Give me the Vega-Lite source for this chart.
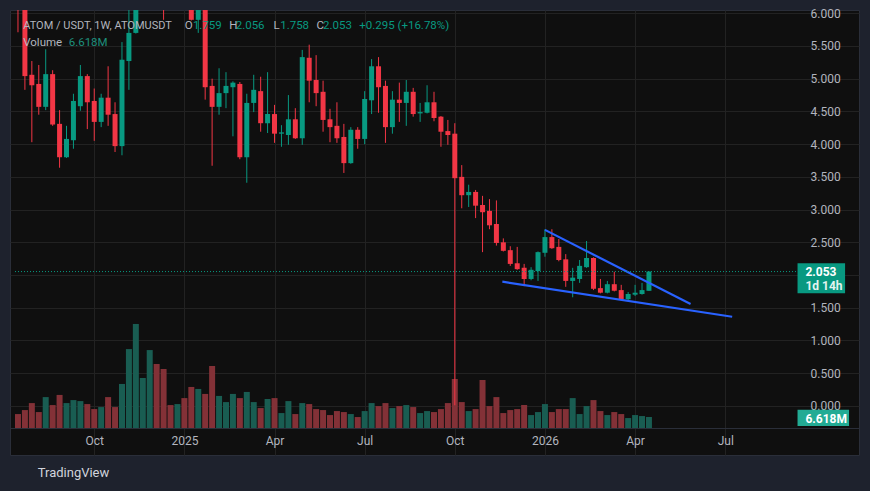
{
  "$schema": "https://vega.github.io/schema/vega-lite/v6.json",
  "width": 849,
  "height": 445,
  "autosize": "none",
  "padding": {"left": 10, "top": 10, "right": 11, "bottom": 36},
  "background": "#1e222d",
  "datasets": {
    "candles": [
      {"date": "2024-07-22", "open": 6.90, "high": 7.20, "low": 5.71, "close": 6.40, "volume": 8.4},
      {"date": "2024-07-29", "open": 6.40, "high": 6.60, "low": 4.83, "close": 5.04, "volume": 10.8},
      {"date": "2024-08-05", "open": 5.06, "high": 5.27, "low": 4.03, "close": 4.90, "volume": 15.0},
      {"date": "2024-08-12", "open": 4.92, "high": 5.21, "low": 4.45, "close": 4.57, "volume": 9.6},
      {"date": "2024-08-19", "open": 4.57, "high": 5.45, "low": 4.52, "close": 5.07, "volume": 18.6},
      {"date": "2024-08-26", "open": 5.07, "high": 5.13, "low": 4.28, "close": 4.30, "volume": 13.8},
      {"date": "2024-09-02", "open": 4.31, "high": 4.52, "low": 3.64, "close": 3.80, "volume": 19.9},
      {"date": "2024-09-09", "open": 3.80, "high": 4.28, "low": 3.79, "close": 4.08, "volume": 15.0},
      {"date": "2024-09-16", "open": 4.06, "high": 4.77, "low": 3.93, "close": 4.66, "volume": 16.8},
      {"date": "2024-09-23", "open": 4.58, "high": 5.21, "low": 4.51, "close": 5.04, "volume": 16.2},
      {"date": "2024-09-30", "open": 5.04, "high": 5.07, "low": 4.23, "close": 4.64, "volume": 14.4},
      {"date": "2024-10-07", "open": 4.66, "high": 4.85, "low": 4.05, "close": 4.34, "volume": 11.4},
      {"date": "2024-10-14", "open": 4.34, "high": 4.77, "low": 4.26, "close": 4.71, "volume": 12.6},
      {"date": "2024-10-21", "open": 4.71, "high": 5.19, "low": 4.28, "close": 4.45, "volume": 18.6},
      {"date": "2024-10-28", "open": 4.46, "high": 4.64, "low": 3.88, "close": 3.97, "volume": 12.6},
      {"date": "2024-11-04", "open": 3.97, "high": 5.56, "low": 3.83, "close": 5.29, "volume": 26.5},
      {"date": "2024-11-11", "open": 5.27, "high": 6.20, "low": 4.83, "close": 5.70, "volume": 47.5},
      {"date": "2024-11-18", "open": 5.70, "high": 7.00, "low": 5.69, "close": 6.60, "volume": 62.6},
      {"date": "2024-11-25", "open": 6.60, "high": 7.80, "low": 6.30, "close": 7.40, "volume": 30.1},
      {"date": "2024-12-02", "open": 7.40, "high": 10.10, "low": 7.20, "close": 8.60, "volume": 46.9},
      {"date": "2024-12-09", "open": 8.60, "high": 9.00, "low": 6.90, "close": 7.80, "volume": 38.5},
      {"date": "2024-12-16", "open": 7.80, "high": 8.00, "low": 5.90, "close": 6.60, "volume": 35.5},
      {"date": "2024-12-23", "open": 6.60, "high": 7.10, "low": 6.20, "close": 6.50, "volume": 13.8},
      {"date": "2024-12-30", "open": 6.50, "high": 7.40, "low": 6.30, "close": 6.90, "volume": 14.4},
      {"date": "2025-01-06", "open": 6.90, "high": 7.10, "low": 6.10, "close": 6.40, "volume": 18.0},
      {"date": "2025-01-13", "open": 6.40, "high": 6.70, "low": 5.89, "close": 5.90, "volume": 24.7},
      {"date": "2025-01-20", "open": 5.90, "high": 6.50, "low": 5.70, "close": 6.30, "volume": 23.5},
      {"date": "2025-01-27", "open": 6.30, "high": 6.40, "low": 4.68, "close": 4.87, "volume": 20.5},
      {"date": "2025-02-03", "open": 4.89, "high": 5.00, "low": 3.67, "close": 4.57, "volume": 37.3},
      {"date": "2025-02-10", "open": 4.57, "high": 5.16, "low": 4.45, "close": 4.78, "volume": 19.3},
      {"date": "2025-02-17", "open": 4.78, "high": 5.10, "low": 4.55, "close": 4.89, "volume": 15.6},
      {"date": "2025-02-24", "open": 4.87, "high": 4.96, "low": 4.12, "close": 4.94, "volume": 20.5},
      {"date": "2025-03-03", "open": 4.92, "high": 4.95, "low": 3.77, "close": 3.80, "volume": 18.0},
      {"date": "2025-03-10", "open": 3.80, "high": 4.77, "low": 3.41, "close": 4.63, "volume": 21.7},
      {"date": "2025-03-17", "open": 4.63, "high": 5.06, "low": 4.49, "close": 4.83, "volume": 15.6},
      {"date": "2025-03-24", "open": 4.81, "high": 5.03, "low": 4.19, "close": 4.32, "volume": 12.0},
      {"date": "2025-03-31", "open": 4.32, "high": 5.10, "low": 4.17, "close": 4.46, "volume": 17.4},
      {"date": "2025-04-07", "open": 4.46, "high": 4.60, "low": 4.02, "close": 4.16, "volume": 18.0},
      {"date": "2025-04-14", "open": 4.16, "high": 4.29, "low": 3.96, "close": 4.18, "volume": 9.0},
      {"date": "2025-04-21", "open": 4.14, "high": 4.75, "low": 3.99, "close": 4.38, "volume": 16.2},
      {"date": "2025-04-28", "open": 4.38, "high": 4.55, "low": 4.08, "close": 4.09, "volume": 8.4},
      {"date": "2025-05-05", "open": 4.09, "high": 5.44, "low": 3.99, "close": 5.33, "volume": 15.0},
      {"date": "2025-05-12", "open": 5.32, "high": 5.52, "low": 4.64, "close": 4.97, "volume": 14.4},
      {"date": "2025-05-19", "open": 4.98, "high": 5.36, "low": 4.58, "close": 4.78, "volume": 11.4},
      {"date": "2025-05-26", "open": 4.80, "high": 4.97, "low": 4.19, "close": 4.37, "volume": 10.8},
      {"date": "2025-06-02", "open": 4.38, "high": 4.54, "low": 4.03, "close": 4.26, "volume": 7.8},
      {"date": "2025-06-09", "open": 4.28, "high": 4.64, "low": 4.02, "close": 4.09, "volume": 10.2},
      {"date": "2025-06-16", "open": 4.11, "high": 4.31, "low": 3.56, "close": 3.71, "volume": 9.6},
      {"date": "2025-06-23", "open": 3.71, "high": 4.26, "low": 3.70, "close": 4.22, "volume": 8.4},
      {"date": "2025-06-30", "open": 4.22, "high": 4.26, "low": 3.93, "close": 4.08, "volume": 6.6},
      {"date": "2025-07-07", "open": 4.08, "high": 4.81, "low": 4.00, "close": 4.69, "volume": 10.2},
      {"date": "2025-07-14", "open": 4.67, "high": 5.30, "low": 4.46, "close": 5.19, "volume": 15.0},
      {"date": "2025-07-21", "open": 5.19, "high": 5.33, "low": 4.48, "close": 4.87, "volume": 13.2},
      {"date": "2025-07-28", "open": 4.89, "high": 4.97, "low": 4.02, "close": 4.26, "volume": 15.0},
      {"date": "2025-08-04", "open": 4.26, "high": 4.81, "low": 4.16, "close": 4.68, "volume": 12.0},
      {"date": "2025-08-11", "open": 4.68, "high": 4.94, "low": 4.34, "close": 4.63, "volume": 13.2},
      {"date": "2025-08-18", "open": 4.63, "high": 4.98, "low": 4.28, "close": 4.80, "volume": 13.8},
      {"date": "2025-08-25", "open": 4.80, "high": 4.86, "low": 4.42, "close": 4.46, "volume": 12.6},
      {"date": "2025-09-01", "open": 4.47, "high": 4.63, "low": 4.34, "close": 4.49, "volume": 9.0},
      {"date": "2025-09-08", "open": 4.48, "high": 4.90, "low": 4.47, "close": 4.64, "volume": 10.2},
      {"date": "2025-09-15", "open": 4.64, "high": 4.80, "low": 4.35, "close": 4.40, "volume": 9.6},
      {"date": "2025-09-22", "open": 4.42, "high": 4.43, "low": 3.96, "close": 4.19, "volume": 11.4},
      {"date": "2025-09-29", "open": 4.20, "high": 4.37, "low": 3.99, "close": 4.14, "volume": 15.0},
      {"date": "2025-10-06", "open": 4.16, "high": 4.32, "low": 0.01, "close": 3.48, "volume": 29.5},
      {"date": "2025-10-13", "open": 3.50, "high": 3.68, "low": 3.02, "close": 3.22, "volume": 15.6},
      {"date": "2025-10-20", "open": 3.22, "high": 3.38, "low": 3.04, "close": 3.27, "volume": 10.2},
      {"date": "2025-10-27", "open": 3.27, "high": 3.30, "low": 2.87, "close": 3.06, "volume": 11.4},
      {"date": "2025-11-03", "open": 3.07, "high": 3.21, "low": 2.35, "close": 2.96, "volume": 28.9},
      {"date": "2025-11-10", "open": 2.98, "high": 3.16, "low": 2.70, "close": 2.76, "volume": 13.2},
      {"date": "2025-11-17", "open": 2.78, "high": 3.14, "low": 2.45, "close": 2.49, "volume": 18.6},
      {"date": "2025-11-24", "open": 2.50, "high": 2.56, "low": 2.36, "close": 2.37, "volume": 9.0},
      {"date": "2025-12-01", "open": 2.38, "high": 2.44, "low": 2.14, "close": 2.17, "volume": 10.8},
      {"date": "2025-12-08", "open": 2.18, "high": 2.43, "low": 2.08, "close": 2.09, "volume": 11.4},
      {"date": "2025-12-15", "open": 2.11, "high": 2.17, "low": 1.83, "close": 1.94, "volume": 13.8},
      {"date": "2025-12-22", "open": 1.94, "high": 2.12, "low": 1.92, "close": 2.08, "volume": 7.8},
      {"date": "2025-12-29", "open": 2.06, "high": 2.36, "low": 1.91, "close": 2.35, "volume": 9.6},
      {"date": "2026-01-05", "open": 2.34, "high": 2.70, "low": 2.28, "close": 2.58, "volume": 14.4},
      {"date": "2026-01-12", "open": 2.58, "high": 2.70, "low": 2.40, "close": 2.41, "volume": 9.6},
      {"date": "2026-01-19", "open": 2.43, "high": 2.55, "low": 2.21, "close": 2.23, "volume": 11.4},
      {"date": "2026-01-26", "open": 2.24, "high": 2.32, "low": 1.82, "close": 1.91, "volume": 11.4},
      {"date": "2026-02-02", "open": 1.91, "high": 2.11, "low": 1.66, "close": 1.96, "volume": 18.0},
      {"date": "2026-02-09", "open": 1.94, "high": 2.23, "low": 1.88, "close": 2.14, "volume": 8.4},
      {"date": "2026-02-16", "open": 2.12, "high": 2.52, "low": 2.11, "close": 2.26, "volume": 13.2},
      {"date": "2026-02-23", "open": 2.26, "high": 2.27, "low": 1.77, "close": 1.79, "volume": 16.8},
      {"date": "2026-03-02", "open": 1.80, "high": 1.94, "low": 1.72, "close": 1.73, "volume": 10.2},
      {"date": "2026-03-09", "open": 1.73, "high": 1.91, "low": 1.72, "close": 1.86, "volume": 7.8},
      {"date": "2026-03-16", "open": 1.86, "high": 2.05, "low": 1.75, "close": 1.76, "volume": 9.6},
      {"date": "2026-03-23", "open": 1.77, "high": 1.85, "low": 1.62, "close": 1.63, "volume": 8.4},
      {"date": "2026-03-30", "open": 1.63, "high": 1.74, "low": 1.60, "close": 1.71, "volume": 6.0},
      {"date": "2026-04-06", "open": 1.70, "high": 1.85, "low": 1.68, "close": 1.73, "volume": 7.8},
      {"date": "2026-04-13", "open": 1.71, "high": 1.88, "low": 1.70, "close": 1.77, "volume": 7.2},
      {"date": "2026-04-20", "open": 1.759, "high": 2.056, "low": 1.758, "close": 2.053, "volume": 6.618}
    ],
    "trend": [
      {"line": "upper", "date": "2026-01-05", "price": 2.69},
      {"line": "upper", "date": "2026-06-01", "price": 1.557},
      {"line": "lower", "date": "2025-11-23", "price": 1.898},
      {"line": "lower", "date": "2026-07-13", "price": 1.363}
    ]
  },
  "layer": [
    {
      "data": {"name": "candles"},
      "mark": {"type": "bar", "width": 6},
      "encoding": {
        "x": {
          "field": "date",
          "type": "temporal",
          "scale": {
            "type": "utc",
            "domain": [
              {"year": 2024, "month": 7, "date": 19, "utc": true},
              {"year": 2026, "month": 11, "date": 13, "utc": true}
            ]
          },
          "axis": {
            "orient": "bottom",
            "offset": -27,
            "title": null,
            "values": [
              {"year": 2024, "month": 10, "date": 7, "utc": true},
              {"year": 2025, "month": 1, "date": 6, "utc": true},
              {"year": 2025, "month": 4, "date": 7, "utc": true},
              {"year": 2025, "month": 7, "date": 7, "utc": true},
              {"year": 2025, "month": 10, "date": 6, "utc": true},
              {"year": 2026, "month": 1, "date": 5, "utc": true},
              {"year": 2026, "month": 4, "date": 6, "utc": true},
              {"year": 2026, "month": 7, "date": 6, "utc": true}
            ],
            "labelExpr": "utcmonth(datum.value) == 0 ? utcFormat(datum.value, '%Y') : utcFormat(datum.value, '%b')",
            "labelFlush": false,
            "labelOverlap": false,
            "labelPadding": 7,
            "domain": true,
            "domainColor": "#2a2e39",
            "ticks": false,
            "grid": true
          }
        },
        "y": {
          "field": "volume",
          "type": "quantitative",
          "scale": {"domain": [-16.24, 251.5], "nice": false, "zero": false},
          "axis": null
        },
        "y2": {"datum": 0},
        "color": {
          "condition": {"test": "datum.close >= datum.open", "value": "#195d52"},
          "value": "#833137"
        }
      }
    },
    {
      "layer": [
        {
          "data": {"name": "candles"},
          "mark": {"type": "rule", "strokeWidth": 1, "clip": true},
          "encoding": {
            "x": {"field": "date", "type": "temporal"},
            "y": {
              "field": "low",
              "type": "quantitative",
              "scale": {"domain": [-0.75, 6.05], "nice": false, "zero": false},
              "axis": {
                "orient": "right",
                "offset": -57,
                "title": null,
                "values": [0, 0.5, 1, 1.5, 2, 2.5, 3, 3.5, 4, 4.5, 5, 5.5, 6],
                "tickCount": 14,
                "labelExpr": "datum.value == 2 ? '' : format(datum.value, '.3f')",
                "labelOverlap": false,
                "labelPadding": 8,
                "domain": false,
                "ticks": false,
                "grid": true
              }
            },
            "y2": {"field": "high"},
            "color": {
              "condition": {"test": "datum.close >= datum.open", "value": "#089981"},
              "value": "#f23645"
            }
          }
        },
        {
          "data": {"name": "candles"},
          "mark": {"type": "bar", "width": 5, "clip": true},
          "encoding": {
            "x": {"field": "date", "type": "temporal"},
            "y": {"field": "open", "type": "quantitative"},
            "y2": {"field": "close"},
            "color": {
              "condition": {"test": "datum.close >= datum.open", "value": "#089981"},
              "value": "#f23645"
            }
          }
        },
        {
          "data": {"name": "trend"},
          "mark": {"type": "line", "color": "#2962ff", "strokeWidth": 2.2},
          "encoding": {
            "x": {"field": "date", "type": "temporal"},
            "y": {"field": "price", "type": "quantitative"},
            "detail": {"field": "line"}
          }
        },
        {
          "data": {"values": [{"price": 2.053}]},
          "mark": {"type": "rule", "color": "#089981", "strokeWidth": 1, "strokeDash": [1, 2]},
          "encoding": {
            "x": {"datum": {"year": 2024, "month": 7, "date": 19, "utc": true}, "type": "temporal"},
            "x2": {"datum": {"year": 2026, "month": 9, "date": 17, "utc": true}},
            "y": {"field": "price", "type": "quantitative"}
          }
        },
        {
          "data": {"values": [{"price": 2.053}]},
          "mark": {"type": "rect", "color": "#089981"},
          "encoding": {
            "x": {"datum": {"year": 2026, "month": 9, "date": 17, "utc": true}, "type": "temporal"},
            "x2": {"datum": {"year": 2026, "month": 11, "date": 4, "utc": true}},
            "y": {"datum": 2.179},
            "y2": {"datum": 1.721}
          }
        },
        {
          "data": {"values": [{"label": "2.053"}]},
          "mark": {"type": "text", "align": "left", "baseline": "middle", "color": "#ffffff", "fontSize": 12, "fontWeight": "bold"},
          "encoding": {
            "x": {"datum": {"year": 2026, "month": 9, "date": 25, "utc": true}, "type": "temporal"},
            "y": {"datum": 2.046},
            "text": {"field": "label"}
          }
        },
        {
          "data": {"values": [{"label": "1d 14h"}]},
          "mark": {"type": "text", "align": "left", "baseline": "middle", "color": "#e3f4f0", "fontSize": 12, "fontWeight": "bold"},
          "encoding": {
            "x": {"datum": {"year": 2026, "month": 9, "date": 25, "utc": true}, "type": "temporal"},
            "y": {"datum": 1.833},
            "text": {"field": "label"}
          }
        },
        {
          "data": {"values": [{"volume": 6.618}]},
          "mark": {"type": "rect", "color": "#22ab94"},
          "encoding": {
            "x": {"datum": {"year": 2026, "month": 9, "date": 17, "utc": true}, "type": "temporal"},
            "x2": {"datum": {"year": 2026, "month": 11, "date": 8, "utc": true}},
            "y": {"datum": -0.06},
            "y2": {"datum": -0.305}
          }
        },
        {
          "data": {"values": [{"label": "6.618M"}]},
          "mark": {"type": "text", "align": "left", "baseline": "middle", "color": "#ffffff", "fontSize": 12, "fontWeight": "bold"},
          "encoding": {
            "x": {"datum": {"year": 2026, "month": 9, "date": 25, "utc": true}, "type": "temporal"},
            "y": {"datum": -0.195},
            "text": {"field": "label"}
          }
        },
        {
          "data": {"values": [{"label": "ATOM / USDT, 1W, ATOMUSDT"}]},
          "mark": {"type": "text", "align": "left", "baseline": "middle", "color": "#b2b5be", "fontSize": 11},
          "encoding": {
            "x": {"datum": {"year": 2024, "month": 7, "date": 27, "hours": 7, "utc": true}, "type": "temporal"},
            "y": {"datum": 5.81},
            "text": {"field": "label"}
          }
        },
        {
          "data": {"values": [{"label": "O"}]},
          "mark": {"type": "text", "align": "left", "baseline": "middle", "color": "#b2b5be", "fontSize": 11.5},
          "encoding": {
            "x": {"datum": {"year": 2025, "month": 1, "date": 6, "hours": 7, "utc": true}, "type": "temporal"},
            "y": {"datum": 5.81},
            "text": {"field": "label"}
          }
        },
        {
          "data": {"values": [{"label": "1.759"}]},
          "mark": {"type": "text", "align": "left", "baseline": "middle", "color": "#089981", "fontSize": 11.5},
          "encoding": {
            "x": {"datum": {"year": 2025, "month": 1, "date": 14, "hours": 14, "utc": true}, "type": "temporal"},
            "y": {"datum": 5.81},
            "text": {"field": "label"}
          }
        },
        {
          "data": {"values": [{"label": "H"}]},
          "mark": {"type": "text", "align": "left", "baseline": "middle", "color": "#b2b5be", "fontSize": 11.5},
          "encoding": {
            "x": {"datum": {"year": 2025, "month": 2, "date": 20, "hours": 5, "utc": true}, "type": "temporal"},
            "y": {"datum": 5.81},
            "text": {"field": "label"}
          }
        },
        {
          "data": {"values": [{"label": "2.056"}]},
          "mark": {"type": "text", "align": "left", "baseline": "middle", "color": "#089981", "fontSize": 11.5},
          "encoding": {
            "x": {"datum": {"year": 2025, "month": 2, "date": 26, "hours": 19, "utc": true}, "type": "temporal"},
            "y": {"datum": 5.81},
            "text": {"field": "label"}
          }
        },
        {
          "data": {"values": [{"label": "L"}]},
          "mark": {"type": "text", "align": "left", "baseline": "middle", "color": "#b2b5be", "fontSize": 11.5},
          "encoding": {
            "x": {"datum": {"year": 2025, "month": 4, "date": 6, "hours": 2, "utc": true}, "type": "temporal"},
            "y": {"datum": 5.81},
            "text": {"field": "label"}
          }
        },
        {
          "data": {"values": [{"label": "1.758"}]},
          "mark": {"type": "text", "align": "left", "baseline": "middle", "color": "#089981", "fontSize": 11.5},
          "encoding": {
            "x": {"datum": {"year": 2025, "month": 4, "date": 12, "hours": 17, "utc": true}, "type": "temporal"},
            "y": {"datum": 5.81},
            "text": {"field": "label"}
          }
        },
        {
          "data": {"values": [{"label": "C"}]},
          "mark": {"type": "text", "align": "left", "baseline": "middle", "color": "#b2b5be", "fontSize": 11.5},
          "encoding": {
            "x": {"datum": {"year": 2025, "month": 5, "date": 19, "hours": 7, "utc": true}, "type": "temporal"},
            "y": {"datum": 5.81},
            "text": {"field": "label"}
          }
        },
        {
          "data": {"values": [{"label": "2.053"}]},
          "mark": {"type": "text", "align": "left", "baseline": "middle", "color": "#089981", "fontSize": 11.5},
          "encoding": {
            "x": {"datum": {"year": 2025, "month": 5, "date": 26, "utc": true}, "type": "temporal"},
            "y": {"datum": 5.81},
            "text": {"field": "label"}
          }
        },
        {
          "data": {"values": [{"label": "+0.295 (+16.78%)"}]},
          "mark": {"type": "text", "align": "left", "baseline": "middle", "color": "#089981", "fontSize": 11.5},
          "encoding": {
            "x": {"datum": {"year": 2025, "month": 7, "date": 1, "hours": 12, "utc": true}, "type": "temporal"},
            "y": {"datum": 5.81},
            "text": {"field": "label"}
          }
        },
        {
          "data": {"values": [{"label": "Volume"}]},
          "mark": {"type": "text", "align": "left", "baseline": "middle", "color": "#b2b5be", "fontSize": 11.5},
          "encoding": {
            "x": {"datum": {"year": 2024, "month": 7, "date": 27, "hours": 7, "utc": true}, "type": "temporal"},
            "y": {"datum": 5.55},
            "text": {"field": "label"}
          }
        },
        {
          "data": {"values": [{"label": "6.618M"}]},
          "mark": {"type": "text", "align": "left", "baseline": "middle", "color": "#1e8f7d", "fontSize": 11.5},
          "encoding": {
            "x": {"datum": {"year": 2024, "month": 9, "date": 11, "hours": 5, "utc": true}, "type": "temporal"},
            "y": {"datum": 5.55},
            "text": {"field": "label"}
          }
        },
        {
          "data": {"values": [{"label": "TradingView"}]},
          "mark": {"type": "text", "align": "left", "baseline": "middle", "color": "#d1d4dc", "fontSize": 13},
          "encoding": {
            "x": {"datum": {"year": 2024, "month": 8, "date": 10, "hours": 22, "utc": true}, "type": "temporal"},
            "y": {"datum": -1.026},
            "text": {"field": "label"}
          }
        }
      ]
    }
  ],
  "resolve": {"scale": {"y": "independent"}},
  "config": {
    "font": "Roboto",
    "view": {"fill": "#0f0f0f", "stroke": "#2a2e39"},
    "axis": {
      "labelFont": "Roboto",
      "labelFontSize": 12,
      "labelColor": "#b2b5be",
      "gridColor": "#222222",
      "gridWidth": 1
    },
    "axisY": {"labelOverlap": false}
  }
}
